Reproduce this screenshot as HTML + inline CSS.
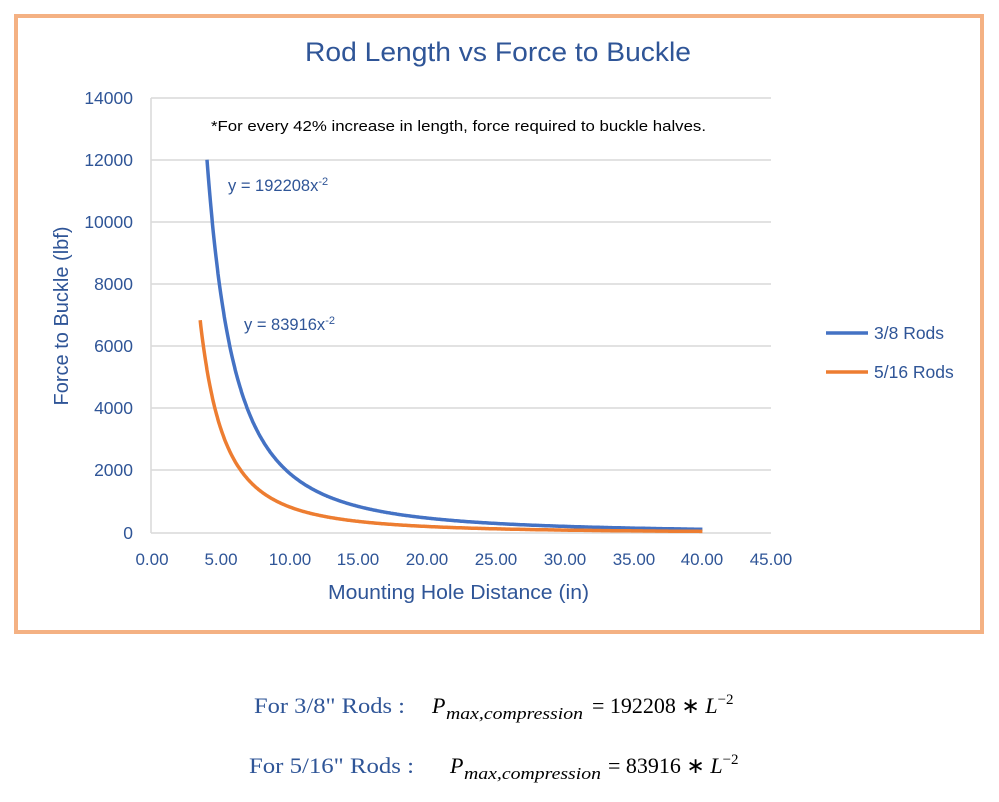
<!DOCTYPE html>
<html><head><meta charset="utf-8"><style>
body{margin:0;background:#fff;width:999px;height:797px;overflow:hidden;font-family:"Liberation Sans",sans-serif}
</style></head><body>
<svg width="999" height="797" xmlns="http://www.w3.org/2000/svg" font-family="Liberation Sans, sans-serif">
<rect x="16" y="16" width="966" height="616" fill="#fff" stroke="#F4B183" stroke-width="4"/>
<text x="305" y="61" textLength="386" lengthAdjust="spacingAndGlyphs" font-size="27" fill="#2F5597">Rod Length vs Force to Buckle</text>
<g stroke="#d9d9d9" stroke-width="1.5">
<line x1="151" y1="98" x2="771" y2="98"/><line x1="151" y1="160" x2="771" y2="160"/>
<line x1="151" y1="222" x2="771" y2="222"/><line x1="151" y1="284" x2="771" y2="284"/>
<line x1="151" y1="346" x2="771" y2="346"/><line x1="151" y1="408" x2="771" y2="408"/>
<line x1="151" y1="470" x2="771" y2="470"/><line x1="151" y1="533" x2="771" y2="533"/>
<line x1="151" y1="98" x2="151" y2="533"/>
</g>
<g font-size="17.5" fill="#2F5597" text-anchor="end">
<text x="133" y="104">14000</text><text x="133" y="166">12000</text><text x="133" y="228">10000</text>
<text x="133" y="290">8000</text><text x="133" y="352">6000</text><text x="133" y="414">4000</text>
<text x="133" y="476">2000</text><text x="133" y="539">0</text>
</g>
<g font-size="17" fill="#2F5597" text-anchor="middle">
<text x="152" y="565">0.00</text><text x="221" y="565">5.00</text><text x="290" y="565">10.00</text>
<text x="358" y="565">15.00</text><text x="427" y="565">20.00</text><text x="496" y="565">25.00</text>
<text x="565" y="565">30.00</text><text x="634" y="565">35.00</text><text x="702" y="565">40.00</text>
<text x="771" y="565">45.00</text>
</g>
<text x="328" y="599" textLength="261" lengthAdjust="spacingAndGlyphs" font-size="20" fill="#2F5597">Mounting Hole Distance (in)</text>
<text transform="translate(68,316) rotate(-90)" text-anchor="middle" font-size="20" fill="#2F5597">Force to Buckle (lbf)</text>
<text x="211" y="131" textLength="495" lengthAdjust="spacingAndGlyphs" font-size="15" fill="#000">*For every 42% increase in length, force required to buckle halves.</text>
<text x="228" y="191" font-size="16.5" fill="#2F5597">y = 192208x<tspan dy="-6" font-size="11">-2</tspan></text>
<text x="244" y="330" font-size="16.5" fill="#2F5597">y = 83916x<tspan dy="-6" font-size="11">-2</tspan></text>
<path id="pb" fill="none" stroke="#4472C4" stroke-width="3.5"/>
<path id="po" fill="none" stroke="#ED7D31" stroke-width="3.5"/>
<line x1="826" y1="333" x2="868" y2="333" stroke="#4472C4" stroke-width="3.5"/>
<text x="874" y="339" font-size="17.5" fill="#2F5597">3/8 Rods</text>
<line x1="826" y1="372" x2="868" y2="372" stroke="#ED7D31" stroke-width="3.5"/>
<text x="874" y="378" font-size="17.5" fill="#2F5597">5/16 Rods</text>
<g font-family="Liberation Serif, serif" font-size="22">
<text x="254" y="713" textLength="151" lengthAdjust="spacingAndGlyphs" fill="#2F5597">For 3/8" Rods :</text>
<text x="432" y="713" fill="#000" font-style="italic">P</text>
<text x="446" y="719" textLength="137" lengthAdjust="spacingAndGlyphs" font-size="17" fill="#000" font-style="italic">max,compression</text>
<text x="592" y="713" fill="#000">= 192208 ∗ <tspan font-style="italic">L</tspan><tspan dy="-9" font-size="15">−2</tspan></text>
<text x="249" y="773" textLength="165" lengthAdjust="spacingAndGlyphs" fill="#2F5597">For 5/16" Rods :</text>
<text x="450" y="773" fill="#000" font-style="italic">P</text>
<text x="464" y="779" textLength="137" lengthAdjust="spacingAndGlyphs" font-size="17" fill="#000" font-style="italic">max,compression</text>
<text x="608" y="773" fill="#000">= 83916 ∗ <tspan font-style="italic">L</tspan><tspan dy="-9" font-size="15">−2</tspan></text>
</g>
</svg>
<script>
function mk(k,x0){var d="";for(var x=x0;x<=40.001;x+=0.05){var px=152+x*13.76,py=533-k/(x*x)*0.031071;d+=(d?"L":"M")+px.toFixed(1)+","+py.toFixed(1);}return d;}
document.getElementById("pb").setAttribute("d",mk(192208,4));
document.getElementById("po").setAttribute("d",mk(83916,3.5));
</script>
</body></html>
